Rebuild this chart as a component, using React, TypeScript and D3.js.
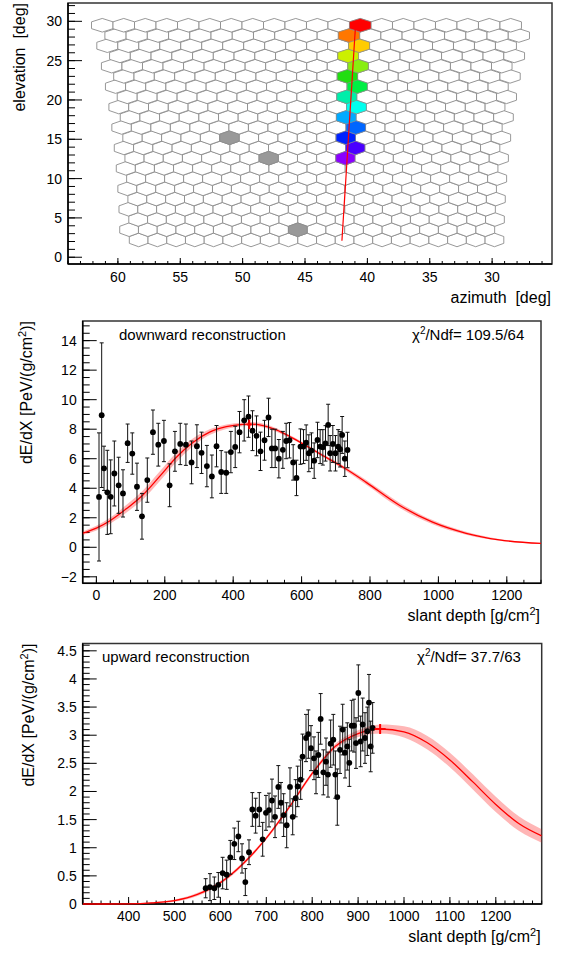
import React from 'react';
import * as d3 from 'd3';

const FONT = "'Liberation Sans', Arial, Helvetica, sans-serif";

// ---------------- Panel 1 : camera view ----------------
const AZ_TICKS = [60, 55, 50, 45, 40, 35, 30];
const EL_TICKS = [0, 5, 10, 15, 20, 25, 30];
const CAM_ROWS = 22;
const CAM_COLS = 20;
const ROW_EL0 = 2.2;
const ROW_STEP = 1.3;
const PIXEL_DEG = 1.5;
const CAM_AZ = 44.45;
const HIT_ROWS = [8, 9, 10, 11, 12, 13, 14, 15, 16, 17, 18, 19, 20, 21];
const HIT_COLS = [11, 12, 11, 12, 11, 12, 11, 12, 11, 12, 11, 12, 11, 12];
const HIT_COLORS = ['#8a00ff', '#4a00ff', '#0022ff', '#0066ff', '#00aaff', '#00ffee', '#00eeaa', '#00ee44', '#22dd11', '#88ee11', '#ccf000', '#ffcc00', '#ff7700', '#ff0000'];
const GRAY_ROWS = [10, 8, 1];
const GRAY_COLS = [5, 7, 9];
const SDP_AZ = [40.97, 42.04];
const SDP_EL = [28.98, 2.1];

// ---------------- Panel 2 : downward reconstruction ----------------
const DOWN_X = [7.7, 15.5, 22.3, 32.0, 41.8, 52.5, 65.1, 77.8, 91.4, 105.0, 118.7, 133.3, 148.9, 165.4, 181.0, 197.5, 214.1, 229.7, 245.2, 261.8, 278.3, 293.9, 307.5, 323.1, 337.7, 351.3, 365.0, 379.6, 393.2, 405.9, 418.5, 432.2, 444.8, 456.5, 468.2, 479.9, 491.6, 503.3, 513.0, 522.8, 533.5, 545.2, 554.9, 564.6, 575.4, 585.1, 596.8, 605.6, 613.4, 621.2, 629.0, 636.8, 646.5, 654.3, 662.1, 669.9, 677.7, 683.5, 691.3, 699.1, 706.9, 712.7, 718.6, 726.4, 734.2];
const DOWN_Y = [3.41, 8.95, 5.35, 3.72, 3.42, 5.0, 4.2, 3.65, 7.05, 6.35, 4.1, 2.1, 4.55, 7.8, 6.95, 7.2, 4.2, 6.5, 7.0, 6.95, 5.75, 6.85, 6.4, 5.5, 4.8, 6.85, 5.1, 5.05, 6.45, 6.8, 7.8, 8.6, 8.85, 7.9, 7.55, 6.5, 7.25, 8.8, 6.7, 6.7, 6.0, 6.6, 7.2, 7.25, 5.75, 4.7, 6.82, 6.82, 7.09, 6.37, 6.55, 5.87, 7.27, 6.82, 6.77, 7.04, 8.29, 6.37, 7.0, 6.37, 6.82, 6.64, 7.61, 6.0, 6.59];
const DOWN_E = [4.34, 4.9, 1.5, 2.85, 2.5, 2.2, 1.9, 1.6, 1.3, 1.4, 1.6, 1.55, 1.5, 1.5, 1.45, 1.4, 1.45, 1.35, 1.4, 1.4, 1.45, 1.45, 1.4, 1.4, 1.45, 1.4, 1.45, 1.4, 1.4, 1.4, 1.4, 1.4, 1.4, 1.35, 1.35, 1.3, 1.35, 1.3, 1.3, 1.3, 1.3, 1.25, 1.2, 1.2, 1.2, 1.2, 1.2, 1.15, 1.2, 1.25, 1.2, 1.2, 1.2, 1.15, 1.2, 1.2, 1.4, 1.2, 1.25, 1.2, 1.15, 1.2, 1.25, 1.2, 1.2];
const DOWN_FIT_X = [-40, 0, 40, 90, 136, 185, 234, 282, 331, 380, 428, 450, 477, 526, 574, 652, 730, 789, 886, 983, 1081, 1178, 1300];
const DOWN_FIT_Y = [0.95, 1.3, 1.8, 2.65, 3.54, 4.8, 6.1, 7.1, 7.8, 8.17, 8.33, 8.35, 8.3, 7.95, 7.4, 6.35, 5.3, 4.4, 2.85, 1.7, 0.95, 0.5, 0.26];
const DOWN_FIT_BAND = [0.12, 0.16, 0.2, 0.26, 0.3, 0.33, 0.32, 0.27, 0.2, 0.15, 0.13, 0.13, 0.13, 0.12, 0.1, 0.1, 0.13, 0.16, 0.17, 0.14, 0.1, 0.06, 0.03];
const DOWN_XMAX = [447, 6, 8.32, 0.32]; // x, ex, y, ey
const DOWN_X_TICKS = [0, 200, 400, 600, 800, 1000, 1200];
const DOWN_Y_TICKS = [-2, 0, 2, 4, 6, 8, 10, 12, 14];

// ---------------- Panel 3 : upward reconstruction ----------------
const UP_X = [567.9, 577.3, 586.8, 595.5, 604.9, 613.7, 621.6, 630.3, 639.1, 647.1, 654.3, 662.3, 669.6, 676.8, 684.8, 692.1, 699.3, 705.9, 712.4, 719.0, 726.2, 732.0, 737.8, 744.4, 751.6, 757.5, 764.0, 768.3, 774.9, 779.0, 786.5, 791.6, 797.4, 803.9, 808.3, 813.4, 818.4, 824.3, 830.1, 834.4, 840.2, 846.0, 850.4, 854.7, 860.6, 866.4, 871.5, 876.5, 880.9, 886.0, 891.1, 895.4, 900.5, 905.6, 910.0, 915.0, 920.1, 923.7, 927.4, 931.7];
const UP_Y = [0.28, 0.30, 0.28, 0.34, 0.55, 0.52, 0.83, 1.07, 1.20, 0.81, 0.39, 0.92, 1.68, 1.57, 1.68, 1.15, 1.62, 1.67, 1.84, 1.55, 2.08, 1.80, 1.58, 1.40, 2.08, 1.55, 1.88, 2.09, 2.21, 2.62, 2.95, 3.02, 2.77, 2.59, 2.34, 2.65, 3.29, 2.34, 2.53, 2.30, 2.85, 2.92, 2.30, 1.90, 2.74, 3.10, 2.69, 2.80, 2.51, 3.17, 3.17, 2.86, 3.75, 2.89, 3.19, 2.95, 3.07, 3.58, 2.80, 3.13];
const UP_E = [0.17, 0.24, 0.2, 0.22, 0.28, 0.26, 0.3, 0.28, 0.27, 0.26, 0.24, 0.22, 0.3, 0.31, 0.3, 0.3, 0.31, 0.3, 0.38, 0.37, 0.38, 0.36, 0.38, 0.4, 0.34, 0.32, 0.33, 0.36, 0.35, 0.4, 0.42, 0.43, 0.4, 0.38, 0.38, 0.4, 0.45, 0.4, 0.42, 0.4, 0.42, 0.45, 0.42, 0.5, 0.42, 0.45, 0.45, 0.42, 0.42, 0.45, 0.47, 0.45, 0.5, 0.45, 0.47, 0.45, 0.43, 0.5, 0.45, 0.45];
const UP_FIT_X = [300, 350, 400, 450, 500, 550, 600, 650, 700, 750, 800, 850, 900, 950, 1000, 1050, 1100, 1150, 1200, 1250, 1300];
const UP_FIT_Y = [0, 0, 0.003, 0.02, 0.06, 0.17, 0.38, 0.72, 1.17, 1.72, 2.32, 2.8, 3.03, 3.11, 3.06, 2.87, 2.56, 2.17, 1.77, 1.43, 1.21];
const UP_FIT_BAND = [0, 0, 0.002, 0.01, 0.02, 0.03, 0.03, 0.03, 0.03, 0.03, 0.035, 0.045, 0.06, 0.08, 0.1, 0.12, 0.13, 0.135, 0.135, 0.13, 0.12];
const UP_XMAX = [948, 12, 3.11, 0.09];
const UP_X_TICKS = [400, 500, 600, 700, 800, 900, 1000, 1100, 1200];
const UP_Y_TICKS = [0, 0.5, 1, 1.5, 2, 2.5, 3, 3.5, 4, 4.5];

type Lin = d3.ScaleLinear<number, number>;

function fmt(v: number) {
  return v < 0 ? '\u2212' + String(-v) : String(v);
}

function Frame(props: {
  x: Lin; y: Lin; xMajor: number[]; xMinor: number[]; yMajor: number[]; yMinor: number[];
  xMaj: number; xMin: number; yMaj: number; yMin: number; labelGap: number; labelDy: number;
}) {
  const { x, y, xMajor, xMinor, yMajor, yMinor, xMaj, xMin, yMaj, yMin, labelGap, labelDy } = props;
  const [x0, x1] = x.range();
  const [y0, y1] = y.range();
  const bottom = Math.max(y0, y1);
  const top = Math.min(y0, y1);
  const left = Math.min(x0, x1);
  const right = Math.max(x0, x1);
  return (
    <g>
      <rect x={left} y={top} width={right - left} height={bottom - top} fill="none" stroke="#333" strokeWidth={1.5} />
      {xMinor.map((v, i) => (
        <line key={'xm' + i} x1={x(v)} x2={x(v)} y1={bottom} y2={bottom - xMin} stroke="#000" strokeWidth={1} />
      ))}
      {xMajor.map((v, i) => (
        <line key={'xM' + i} x1={x(v)} x2={x(v)} y1={bottom} y2={bottom - xMaj} stroke="#000" strokeWidth={1} />
      ))}
      {yMinor.map((v, i) => (
        <line key={'ym' + i} x1={left} x2={left + yMin} y1={y(v)} y2={y(v)} stroke="#000" strokeWidth={1} />
      ))}
      {yMajor.map((v, i) => (
        <line key={'yM' + i} x1={left} x2={left + yMaj} y1={y(v)} y2={y(v)} stroke="#000" strokeWidth={1} />
      ))}
      <line x1={left} x2={right} y1={bottom} y2={bottom} stroke="#000" strokeWidth={1.5} />
      <line x1={left} x2={left} y1={top} y2={bottom} stroke="#000" strokeWidth={1.5} />
      {xMajor.map((v, i) => (
        <text key={'xl' + i} x={x(v)} y={bottom + labelDy} textAnchor="middle" fontSize={14} fontFamily={FONT}>{fmt(v)}</text>
      ))}
      {yMajor.map((v, i) => (
        <text key={'yl' + i} x={left - labelGap} y={y(v) + 5} textAnchor="end" fontSize={14} fontFamily={FONT}>{fmt(v)}</text>
      ))}
    </g>
  );
}

function Camera() {
  const x = d3.scaleLinear().domain([64, 25.2]).range([68, 552]);
  const y = d3.scaleLinear().domain([-0.86, 32.33]).range([264, 3]);
  const R = PIXEL_DEG / Math.sqrt(3);
  const line = d3.line();
  const hexPath = (r: number, c: number) => {
    const el = ROW_EL0 + r * ROW_STEP;
    const sp = PIXEL_DEG / Math.cos((el * Math.PI) / 180);
    const az = CAM_AZ - (c - 9.5 + (r % 2 === 0 ? 0.25 : -0.25)) * sp;
    const pts: [number, number][] = [
      [az, el + R], [az - sp / 2, el + R / 2], [az - sp / 2, el - R / 2],
      [az, el - R], [az + sp / 2, el - R / 2], [az + sp / 2, el + R / 2],
    ];
    return line(pts.map(([a, e]) => [x(a), y(e)] as [number, number])) + 'Z';
  };
  const cells: { r: number; c: number }[] = [];
  for (let r = 0; r < CAM_ROWS; r++) for (let c = 0; c < CAM_COLS; c++) cells.push({ r, c });
  const xMinor = d3.range(26, 65, 1);
  const yMinor = d3.range(0, 33, 1);
  return (
    <g>
      <Frame x={x} y={y} xMajor={AZ_TICKS} xMinor={xMinor} yMajor={EL_TICKS} yMinor={yMinor}
        xMaj={6} xMin={3} yMaj={14} yMin={7} labelGap={6} labelDy={17.5} />
      {cells.map(({ r, c }) => (
        <path key={r + '-' + c} d={hexPath(r, c)} fill="#fff" stroke="#8c8c8c" strokeWidth={0.9} />
      ))}
      {GRAY_ROWS.map((r, i) => (
        <path key={'g' + i} d={hexPath(r, GRAY_COLS[i])} fill="#999" stroke="#8c8c8c" strokeWidth={0.9} />
      ))}
      {HIT_ROWS.map((r, i) => (
        <path key={'h' + i} d={hexPath(r, HIT_COLS[i])} fill={HIT_COLORS[i]} stroke="#8c8c8c" strokeWidth={0.6} />
      ))}
      <line x1={x(SDP_AZ[0])} y1={y(SDP_EL[0])} x2={x(SDP_AZ[1])} y2={y(SDP_EL[1])} stroke="#ff0000" strokeWidth={1.2} />
      <text transform="translate(25,3) rotate(-90)" textAnchor="end" fontSize={16} fontFamily={FONT} style={{ whiteSpace: 'pre' }}>elevation  [deg]</text>
      <text x={551} y={303} textAnchor="end" fontSize={16} fontFamily={FONT} style={{ whiteSpace: 'pre' }}>azimuth  [deg]</text>
    </g>
  );
}

function Profile(props: {
  id: string; x: Lin; y: Lin; px: number[]; py: number[]; pe: number[];
  fx: number[]; fy: number[]; fb: number[]; xmax: number[];
  xMajor: number[]; xMinor: number[]; yMajor: number[]; yMinor: number[];
  label: string; chi: string; textY: number; labelX: number; chiX: number; titleX: number;
}) {
  const { id, x, y, px, py, pe, fx, fy, fb, xmax, xMajor, xMinor, yMajor, yMinor, label, chi, textY, labelX, chiX, titleX } = props;
  const [l, r] = x.range();
  const [b, t] = y.range();
  const idx = fx.map((_, i) => i);
  const area = d3.area<number>().x((i) => x(fx[i])).y0((i) => y(fy[i] - fb[i])).y1((i) => y(fy[i] + fb[i])).curve(d3.curveMonotoneX);
  const line = d3.line<number>().x((i) => x(fx[i])).y((i) => y(fy[i])).curve(d3.curveMonotoneX);
  return (
    <g>
      <defs>
        <clipPath id={id}>
          <rect x={l} y={t} width={r - l} height={b - t + 1.5} />
        </clipPath>
      </defs>
      <Frame x={x} y={y} xMajor={xMajor} xMinor={xMinor} yMajor={yMajor} yMinor={yMinor}
        xMaj={7} xMin={3.5} yMaj={14} yMin={7} labelGap={6} labelDy={17} />
      <g clipPath={`url(#${id})`}>
        <path d={area(idx) || ''} fill="#ff2020" fillOpacity={0.33} stroke="none" />
        <path d={line(idx) || ''} fill="none" stroke="#ff0000" strokeWidth={1.3} />
        {px.map((v, i) => (
          <g key={i}>
            <line x1={x(v)} x2={x(v)} y1={y(py[i] - pe[i])} y2={y(py[i] + pe[i])} stroke="#111" strokeWidth={1} />
            <line x1={x(v) - 2} x2={x(v) + 2} y1={y(py[i] - pe[i])} y2={y(py[i] - pe[i])} stroke="#111" strokeWidth={1} />
            <line x1={x(v) - 2} x2={x(v) + 2} y1={y(py[i] + pe[i])} y2={y(py[i] + pe[i])} stroke="#111" strokeWidth={1} />
            <circle cx={x(v)} cy={y(py[i])} r={2.9} fill="#000" />
          </g>
        ))}
        <line x1={x(xmax[0] - xmax[1])} x2={x(xmax[0] + xmax[1])} y1={y(xmax[2])} y2={y(xmax[2])} stroke="#ff0000" strokeWidth={2} />
        <line x1={x(xmax[0])} x2={x(xmax[0])} y1={y(xmax[2] - xmax[3])} y2={y(xmax[2] + xmax[3])} stroke="#ff0000" strokeWidth={2} />
      </g>
      <text x={labelX} y={textY} fontSize={15} fontFamily={FONT}>{label}</text>
      <text x={chiX} y={textY} fontSize={15} fontFamily={FONT}>
        {'\u03c7'}<tspan dy={-6} fontSize={10}>2</tspan><tspan dy={6}>{'/Ndf= ' + chi}</tspan>
      </text>
      <text transform={`translate(${titleX},${t}) rotate(-90)`} textAnchor="end" fontSize={16} fontFamily={FONT}>
        dE/dX [PeV/(g/cm<tspan dy={-6} fontSize={11}>2</tspan><tspan dy={6}>)]</tspan>
      </text>
      <text x={r - 1} y={b + 38} textAnchor="end" fontSize={16} fontFamily={FONT}>
        slant depth [g/cm<tspan dy={-6} fontSize={11}>2</tspan><tspan dy={6}>]</tspan>
      </text>
    </g>
  );
}

export default function App() {
  const x2 = d3.scaleLinear().domain([-40, 1300]).range([82.7, 541]);
  const y2 = d3.scaleLinear().domain([-2.44, 15.33]).range([583.3, 321]);
  const x3 = d3.scaleLinear().domain([300, 1300]).range([82.7, 541.7]);
  const y3 = d3.scaleLinear().domain([0, 4.63]).range([904, 643.5]);
  return (
    <svg width={569} height={954} viewBox="0 0 569 954" style={{ position: 'absolute', left: 0, top: 0, background: '#fff' }}>
      <rect x={0} y={0} width={569} height={954} fill="#fff" />
      <Camera />
      <Profile id="clipDown" x={x2} y={y2} px={DOWN_X} py={DOWN_Y} pe={DOWN_E}
        fx={DOWN_FIT_X} fy={DOWN_FIT_Y} fb={DOWN_FIT_BAND} xmax={DOWN_XMAX}
        xMajor={DOWN_X_TICKS} xMinor={d3.range(0, 1301, 50)} yMajor={DOWN_Y_TICKS} yMinor={d3.range(-2, 15.01, 0.5)}
        label="downward reconstruction" chi="109.5/64" textY={340} labelX={119} chiX={412} titleX={32} />
      <Profile id="clipUp" x={x3} y={y3} px={UP_X} py={UP_Y} pe={UP_E}
        fx={UP_FIT_X} fy={UP_FIT_Y} fb={UP_FIT_BAND} xmax={UP_XMAX}
        xMajor={UP_X_TICKS} xMinor={d3.range(300, 1301, 20)} yMajor={UP_Y_TICKS} yMinor={d3.range(0, 4.61, 0.1)}
        label="upward reconstruction" chi="37.7/63" textY={662} labelX={102} chiX={417} titleX={34} />
    </svg>
  );
}
